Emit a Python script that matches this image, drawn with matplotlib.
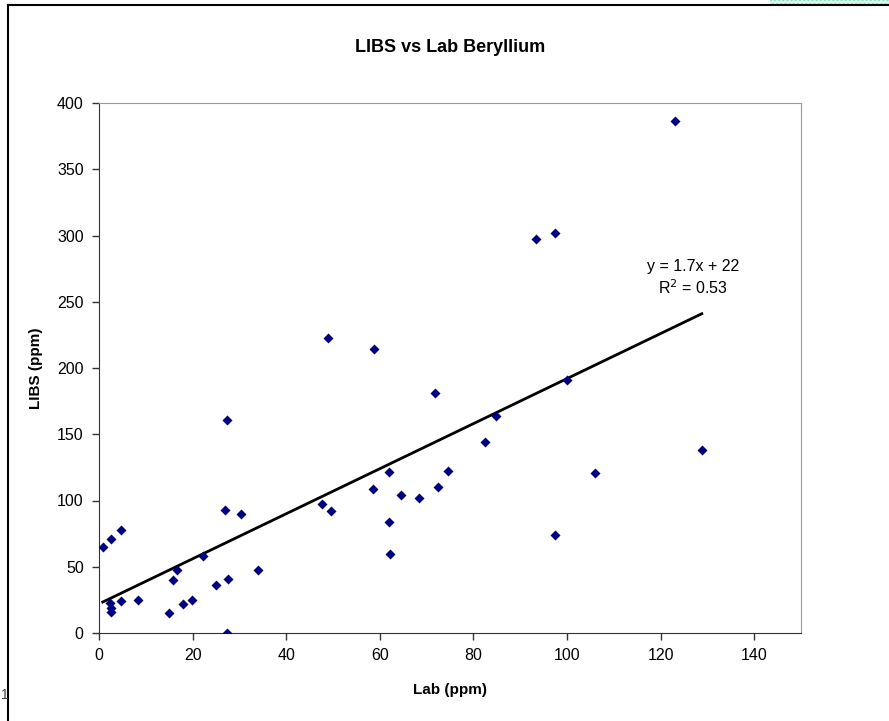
import numpy as np
import matplotlib
matplotlib.use("Agg")
import matplotlib.pyplot as plt
from matplotlib.patches import Rectangle

plt.rcParams['font.family'] = ['Liberation Sans', 'DejaVu Sans']

# Lab vs LIBS beryllium readings (ppm)
lab_ppm = [0.8, 2.6, 4.6, 2.35, 2.5, 2.6, 4.6, 8.3, 15.0, 15.9, 16.7, 17.9,
           19.9, 22.3, 25.1, 26.9, 27.3, 27.3, 27.5, 30.3, 34.0, 47.6, 49.0,
           49.6, 58.5, 58.7, 62.0, 62.0, 62.2, 64.5, 68.4, 71.7, 72.5, 74.5,
           82.5, 84.8, 93.3, 97.4, 97.4, 100.1, 106.0, 123.1, 128.8]
libs_ppm = [64.7, 70.7, 77.7, 22.4, 18.6, 15.6, 24.2, 25.2, 14.9, 39.8, 47.5,
            21.9, 25.2, 58.1, 36.5, 92.8, 160.8, 0.2, 40.5, 89.6, 47.8, 97.4,
            222.9, 92.3, 108.9, 214.6, 121.3, 84.0, 59.4, 103.8, 101.6, 181.5,
            110.2, 122.6, 144.2, 163.8, 297.6, 301.7, 73.7, 190.9, 120.5,
            386.6, 138.1]

# trendline as printed on the chart
slope = 1.7
intercept = 22
trend_label = "y = 1.7x + 22\nR$^2$ = 0.53"

x_ticks = [0, 20, 40, 60, 80, 100, 120, 140]
y_ticks = [0, 50, 100, 150, 200, 250, 300, 350, 400]

W, H = 889, 721
fig = plt.figure(figsize=(W / 100, H / 100), dpi=100)

# outer chart frame (left + top) and the dotted strip at the top right
fig.add_artist(plt.Line2D([8 / W, 8 / W], [0, 1 - 5 / H], color='black', lw=1.5))
fig.add_artist(plt.Line2D([8 / W, 1], [1 - 5 / H, 1 - 5 / H], color='black', lw=1.5))
fig.add_artist(Rectangle((770 / W, 1 - 4 / H), 119 / W, 4 / H, facecolor='#d8f6ec',
                         edgecolor='#7fdcbf', hatch='....', lw=0,
                         transform=fig.transFigure))
fig.text(1 / W, 1 - 695 / H, "1", fontsize=10, color='#444444', va='center')

ax = fig.add_axes([99 / W, (H - 633) / H, (801 - 99) / W, (633 - 103) / H])

ax.scatter(lab_ppm, libs_ppm, marker='D', s=26, color='#000080', zorder=3,
           linewidths=0)

xl = np.array([min(lab_ppm), max(lab_ppm)])
ax.plot(xl, slope * xl + intercept, color='black', lw=2, zorder=2)

ax.text(127, 268, trend_label, ha='center', va='center', fontsize=11.5,
        linespacing=1.3)

ax.set_xlim(0, 150)
ax.set_ylim(0, 400)
ax.set_xticks(x_ticks)
ax.set_yticks(y_ticks)
ax.tick_params(direction='out', length=5, width=1, labelsize=11.5,
               colors='#333333', labelcolor='black', pad=6)
for side in ['top', 'right']:
    ax.spines[side].set_color('#999999')
for side in ['left', 'bottom']:
    ax.spines[side].set_color('#333333')

ax.set_title("LIBS vs Lab Beryllium", fontsize=13, fontweight='bold', pad=37)
ax.set_xlabel("Lab (ppm)", fontsize=11, fontweight='bold', labelpad=14)
ax.set_ylabel("LIBS (ppm)", fontsize=11, fontweight='bold', labelpad=10)

fig.savefig("out.png", dpi=100)
